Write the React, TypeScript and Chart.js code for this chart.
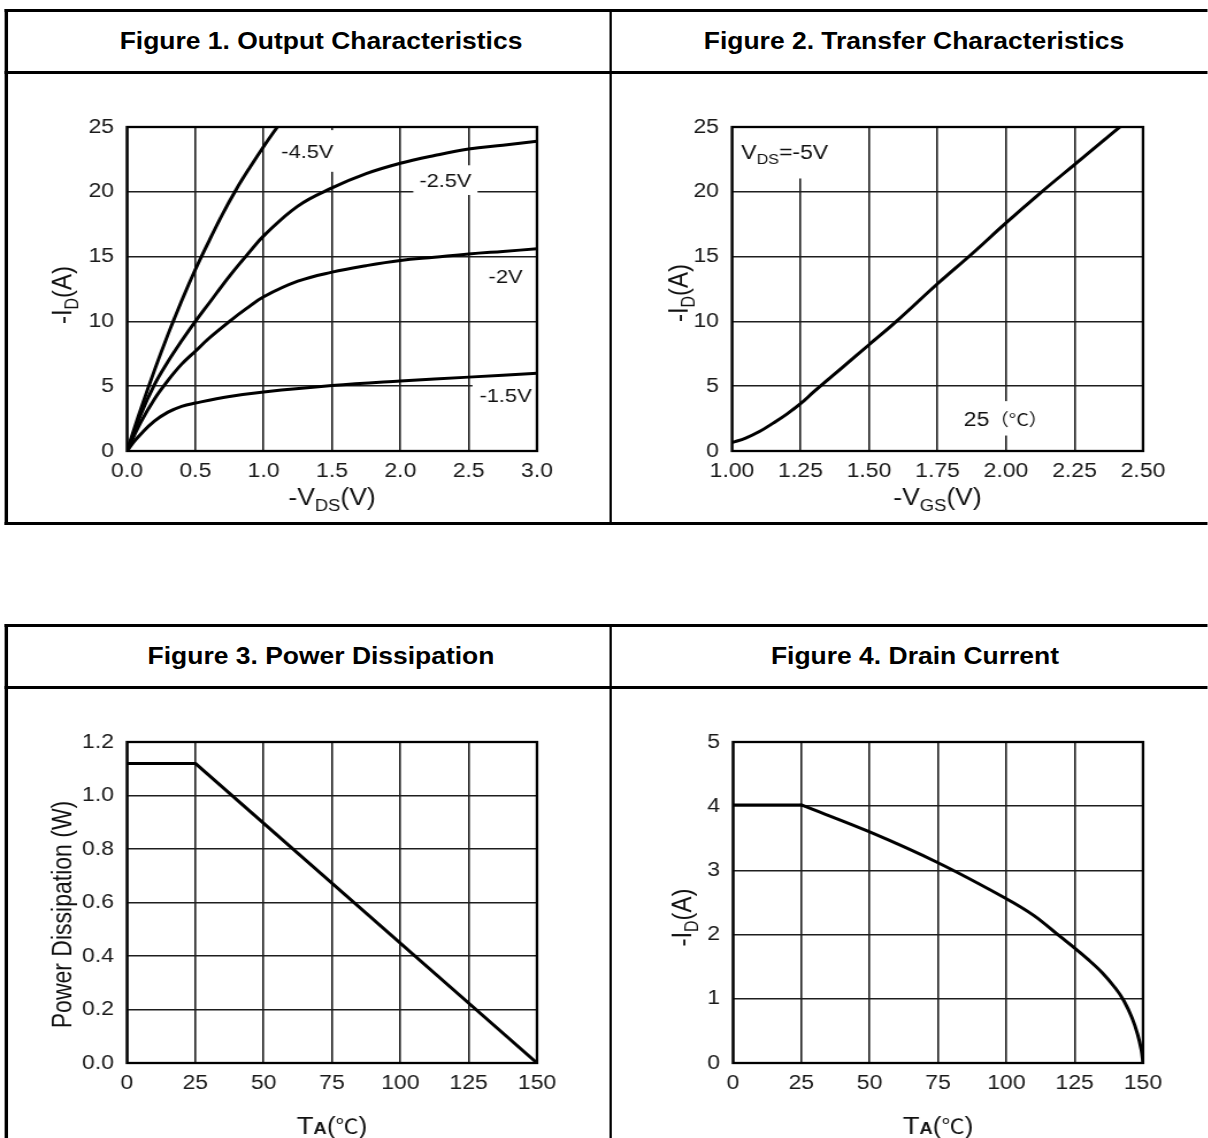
import React, { useEffect, useRef } from 'react';
import { Chart, registerables } from 'chart.js';

Chart.register(...registerables);

// The reference scan is stretched horizontally; everything is laid out
// at 1/S width and stretched back with a CSS transform.
const S = 1.15;
const SANS = '"Liberation Sans", Arial, Helvetica, sans-serif';
const CJK = '"Noto Sans CJK SC", "Noto Sans CJK JP", sans-serif';

// ---------------- Figure 1: Output characteristics ----------------
const fig1VdsM45 = [0, 0.1, 0.2, 0.3, 0.4, 0.5, 0.6, 0.7, 0.8, 0.9, 1.0, 1.1, 1.15];
const fig1IdM45 = [0, 3.2, 6.2, 9.0, 11.6, 14.0, 16.2, 18.3, 20.2, 21.9, 23.5, 25.0, 25.7];
const fig1VdsM25 = [0, 0.1, 0.2, 0.3, 0.4, 0.5, 0.6, 0.75, 0.9, 1.0, 1.25, 1.5, 1.75, 2.0, 2.25, 2.5, 2.75, 3.0];
const fig1IdM25 = [0, 2.8, 5.1, 6.9, 8.5, 10.0, 11.4, 13.5, 15.4, 16.6, 18.9, 20.3, 21.4, 22.2, 22.8, 23.3, 23.6, 23.9];
const fig1VdsM20 = [0, 0.1, 0.2, 0.3, 0.4, 0.5, 0.6, 0.75, 0.875, 1.0, 1.25, 1.5, 1.75, 2.0, 2.25, 2.5, 2.75, 3.0];
const fig1IdM20 = [0, 2.2, 4.0, 5.45, 6.7, 7.7, 8.7, 10.0, 11.0, 11.9, 13.1, 13.8, 14.3, 14.7, 14.95, 15.2, 15.4, 15.6];
const fig1VdsM15 = [0, 0.05, 0.1, 0.2, 0.3, 0.4, 0.5, 0.75, 1.0, 1.5, 2.0, 2.5, 3.0];
const fig1IdM15 = [0, 0.7, 1.3, 2.3, 3.0, 3.45, 3.7, 4.2, 4.55, 5.05, 5.4, 5.7, 6.0];
const fig1CurveLabels = ['-4.5V', '-2.5V', '-2V', '-1.5V'];

// ---------------- Figure 2: Transfer characteristics ----------------
const fig2Vgs = [1.0, 1.05, 1.1, 1.15, 1.2, 1.25, 1.3, 1.4, 1.5, 1.6, 1.75, 1.875, 2.0, 2.125, 2.25, 2.375, 2.45];
const fig2Id = [0.65, 1.0, 1.5, 2.15, 2.85, 3.65, 4.6, 6.4, 8.2, 10.0, 12.9, 15.2, 17.6, 19.9, 22.1, 24.3, 25.6];

// ---------------- Figure 3: Power dissipation ----------------
const fig3Temp = [0, 25, 150];
const fig3Power = [1.12, 1.12, 0];

// ---------------- Figure 4: Drain current ----------------
const fig4FlatTemp = [0, 25];
const fig4FlatId = [4.02, 4.02];
const fig4Temp = [25, 50, 75, 100, 110, 120, 125, 130, 135, 140, 143, 146, 148, 149.4, 150];
const fig4Id = [4.02, 3.6, 3.12, 2.56, 2.3, 1.96, 1.79, 1.61, 1.41, 1.16, 0.97, 0.7, 0.45, 0.2, 0];

const figureTitles = [
  'Figure 1. Output Characteristics',
  'Figure 2. Transfer Characteristics',
  'Figure 3. Power Dissipation',
  'Figure 4. Drain Current',
];

type Run = { text: string; size: number; bold?: boolean; family?: string; dy?: number };
type Note = { x: number; y: number; align: 'left' | 'center'; runs: Run[]; padX: number; padY: number };
type Axis = { min: number; max: number; step: number; dec: number };
type Series = { xs: number[]; ys: number[]; tension: number };
type Spec = {
  box: [number, number, number, number];
  plot: [number, number, number, number];
  x: Axis;
  y: Axis;
  series: Series[];
  notes: Note[];
  xTitle: Run[];
  xTitleDy: number;
  yTitle: Run[];
  yTitleDx: number;
  yTitleDy: number;
};

const runFont = (r: Run) => `${r.bold ? 'bold ' : ''}${r.size}px ${r.family ?? SANS}`;

function measureRuns(ctx: CanvasRenderingContext2D, runs: Run[]) {
  let w = 0;
  for (const r of runs) {
    ctx.font = runFont(r);
    w += ctx.measureText(r.text).width;
  }
  return w;
}

function drawRuns(ctx: CanvasRenderingContext2D, runs: Run[], x: number, baseline: number) {
  let cx = x;
  for (const r of runs) {
    ctx.font = runFont(r);
    ctx.fillText(r.text, cx, baseline + (r.dy ?? 0));
    cx += ctx.measureText(r.text).width;
  }
}

const capOf = (runs: Run[]) => runs[0].size * 0.72;

function makeDecor(spec: Spec) {
  return {
    id: 'decor',
    beforeDatasetsDraw(chart: any) {
      const ctx: CanvasRenderingContext2D = chart.ctx;
      const xs = chart.scales.x;
      const ys = chart.scales.y;
      ctx.save();
      ctx.fillStyle = '#ffffff';
      for (const n of spec.notes) {
        const w = measureRuns(ctx, n.runs);
        const px = xs.getPixelForValue(n.x);
        const py = ys.getPixelForValue(n.y);
        const left = n.align === 'center' ? px - w / 2 : px;
        const cap = capOf(n.runs);
        ctx.fillRect(left - n.padX / S, py - cap / 2 - n.padY, w + (2 * n.padX) / S, cap + 2 * n.padY);
      }
      ctx.restore();
    },
    afterDatasetsDraw(chart: any) {
      const ctx: CanvasRenderingContext2D = chart.ctx;
      const a = chart.chartArea;
      ctx.save();
      ctx.strokeStyle = '#000';
      ctx.lineWidth = 2.3;
      ctx.strokeRect(a.left, a.top, a.right - a.left, a.bottom - a.top);
      ctx.restore();
    },
    afterDraw(chart: any) {
      const ctx: CanvasRenderingContext2D = chart.ctx;
      const a = chart.chartArea;
      const xs = chart.scales.x;
      const ys = chart.scales.y;
      ctx.save();
      ctx.fillStyle = '#111';
      ctx.textBaseline = 'alphabetic';
      ctx.textAlign = 'left';
      for (const n of spec.notes) {
        const w = measureRuns(ctx, n.runs);
        const px = xs.getPixelForValue(n.x);
        const py = ys.getPixelForValue(n.y);
        const left = n.align === 'center' ? px - w / 2 : px;
        drawRuns(ctx, n.runs, left, py + capOf(n.runs) / 2);
      }
      // x axis title
      {
        const w = measureRuns(ctx, spec.xTitle);
        const cx = (a.left + a.right) / 2;
        const cy = a.bottom + spec.xTitleDy;
        drawRuns(ctx, spec.xTitle, cx - w / 2, cy + capOf(spec.xTitle) / 2);
      }
      // y axis title (rotated)
      {
        const w = measureRuns(ctx, spec.yTitle);
        const cx = a.left - spec.yTitleDx / S;
        const cy = (a.top + a.bottom) / 2 + spec.yTitleDy;
        ctx.translate(cx, cy);
        ctx.rotate(-Math.PI / 2);
        drawRuns(ctx, spec.yTitle, -w / 2, capOf(spec.yTitle) / 2);
      }
      ctx.restore();
    },
  };
}

const TICK_FONT = { family: SANS, size: 20 };
const GRID = { color: '#1e1e1e', lineWidth: 1.6, drawTicks: false };

function ChartPanel({ spec }: { spec: Spec }) {
  const ref = useRef<HTMLCanvasElement>(null);
  const [X0, Y0, X1, Y1] = spec.box;
  const cl = Math.round(X0 / S);
  const cw = Math.round((X1 - X0) / S);
  const ch = Y1 - Y0;

  useEffect(() => {
    const canvas = ref.current;
    if (!canvas) return;
    const [L, T, R, B] = spec.plot;
    const yAxisW = L / S - cl;
    const rightPad = cl + cw - R / S;
    const topPad = T - Y0;
    const xAxisH = Y1 - B;
    const chart = new Chart(canvas, {
      type: 'line',
      data: {
        datasets: spec.series.map((s) => ({
          data: s.xs.map((x, i) => ({ x, y: s.ys[i] })),
          borderColor: '#000',
          borderWidth: 3,
          pointRadius: 0,
          fill: false,
          tension: s.tension,
          borderJoinStyle: 'round',
          borderCapStyle: 'round',
        })),
      },
      options: {
        animation: false,
        responsive: false,
        devicePixelRatio: 1,
        events: [],
        layout: { padding: { left: 0, right: rightPad, top: topPad, bottom: 0 } },
        plugins: { legend: { display: false }, tooltip: { enabled: false } },
        scales: {
          x: {
            type: 'linear',
            min: spec.x.min,
            max: spec.x.max,
            afterFit: (sc: any) => {
              sc.height = xAxisH;
            },
            ticks: {
              stepSize: spec.x.step,
              autoSkip: false,
              maxRotation: 0,
              padding: 8,
              font: TICK_FONT,
              color: '#1a1a1a',
              callback: (v: any) => Number(v).toFixed(spec.x.dec),
            },
            grid: GRID,
            border: { display: false },
          },
          y: {
            type: 'linear',
            min: spec.y.min,
            max: spec.y.max,
            afterFit: (sc: any) => {
              sc.width = yAxisW;
            },
            ticks: {
              stepSize: spec.y.step,
              autoSkip: false,
              padding: 13 / S,
              font: TICK_FONT,
              color: '#1a1a1a',
              callback: (v: any) => Number(v).toFixed(spec.y.dec),
            },
            grid: GRID,
            border: { display: false },
          },
        },
      } as any,
      plugins: [makeDecor(spec) as any],
    });
    return () => chart.destroy();
  }, [spec]);

  return (
    <canvas
      ref={ref}
      width={cw}
      height={ch}
      style={{ position: 'absolute', left: cl, top: Y0, width: cw, height: ch }}
    />
  );
}

const sub = (text: string, size = 15, dy = 6): Run => ({ text, size, dy });
const txt = (text: string, size = 22): Run => ({ text, size });

const taTitle: Run[] = [
  { text: 'T', size: 24 },
  { text: 'A', size: 16, bold: true },
  { text: '(', size: 23 },
  { text: '\u2103', size: 20, family: CJK },
  { text: ')', size: 23 },
];

const note = (text: string, x: number, y: number, padX: number, padY: number): Note => ({
  x,
  y,
  align: 'center',
  runs: [{ text, size: 19 }],
  padX,
  padY,
});

const SPEC1: Spec = {
  box: [14, 80, 600, 520],
  plot: [127, 127, 537, 451],
  x: { min: 0, max: 3, step: 0.5, dec: 1 },
  y: { min: 0, max: 25, step: 5, dec: 0 },
  series: [
    { xs: fig1VdsM45, ys: fig1IdM45, tension: 0.4 },
    { xs: fig1VdsM25, ys: fig1IdM25, tension: 0.4 },
    { xs: fig1VdsM20, ys: fig1IdM20, tension: 0.4 },
    { xs: fig1VdsM15, ys: fig1IdM15, tension: 0.4 },
  ],
  notes: [
    note(fig1CurveLabels[0], 1.32, 23.15, 6, 14),
    note(fig1CurveLabels[1], 2.33, 20.9, 6, 8),
    note(fig1CurveLabels[2], 2.77, 13.5, 6, 6),
    note(fig1CurveLabels[3], 2.77, 4.3, 7, 6),
  ],
  xTitle: [txt('-V', 23), sub('DS', 16), txt('(V)', 23)],
  xTitleDy: 46,
  yTitle: [txt('-I', 24), sub('D', 16, 6), txt('(A)', 24)],
  yTitleDx: 66,
  yTitleDy: 6,
};

const SPEC2: Spec = {
  box: [620, 80, 1205, 520],
  plot: [732, 127, 1143, 451],
  x: { min: 1, max: 2.5, step: 0.25, dec: 2 },
  y: { min: 0, max: 25, step: 5, dec: 0 },
  series: [{ xs: fig2Vgs, ys: fig2Id, tension: 0.4 }],
  notes: [
    {
      x: 1.034,
      y: 23.05,
      align: 'left',
      runs: [{ text: 'V', size: 20 }, { text: 'DS', size: 14, dy: 5 }, { text: '=-5V', size: 20 }],
      padX: 6,
      padY: 19,
    },
    {
      x: 2.0,
      y: 2.52,
      align: 'center',
      runs: [{ text: '25', size: 20 }, { text: '\uFF08\u00B0C\uFF09', size: 17, family: CJK }],
      padX: 4,
      padY: 10,
    },
  ],
  xTitle: [txt('-V', 23), sub('GS', 16), txt('(V)', 23)],
  xTitleDy: 46,
  yTitle: [txt('-I', 24), sub('D', 16, 6), txt('(A)', 24)],
  yTitleDx: 54,
  yTitleDy: 4,
};

const SPEC3: Spec = {
  box: [14, 695, 600, 1138],
  plot: [127, 742, 537, 1063],
  x: { min: 0, max: 150, step: 25, dec: 0 },
  y: { min: 0, max: 1.2, step: 0.2, dec: 1 },
  series: [{ xs: fig3Temp, ys: fig3Power, tension: 0 }],
  notes: [],
  xTitle: taTitle,
  xTitleDy: 62,
  yTitle: [txt('Power Dissipation (W)', 23)],
  yTitleDx: 65,
  yTitleDy: 12,
};

const SPEC4: Spec = {
  box: [620, 695, 1205, 1138],
  plot: [733, 742, 1143, 1063],
  x: { min: 0, max: 150, step: 25, dec: 0 },
  y: { min: 0, max: 5, step: 1, dec: 0 },
  series: [
    { xs: fig4FlatTemp, ys: fig4FlatId, tension: 0 },
    { xs: fig4Temp, ys: fig4Id, tension: 0.35 },
  ],
  notes: [],
  xTitle: taTitle,
  xTitleDy: 62,
  yTitle: [txt('-I', 24), sub('D', 16, 6), txt('(A)', 24)],
  yTitleDx: 52,
  yTitleDy: 15,
};

const SPECS = [SPEC1, SPEC2, SPEC3, SPEC4];

function HLine({ y, x0, x1, t = 3 }: { y: number; x0: number; x1: number; t?: number }) {
  return (
    <div style={{ position: 'absolute', left: x0 / S, width: (x1 - x0) / S, top: y, height: t, background: '#000' }} />
  );
}
function VLine({ x, y0, y1, t = 3 }: { x: number; y0: number; y1: number; t?: number }) {
  return (
    <div style={{ position: 'absolute', left: x / S, width: t / S, top: y0, height: y1 - y0, background: '#000' }} />
  );
}
function Title({ text, cx, cy }: { text: string; cx: number; cy: number }) {
  return (
    <div
      style={{
        position: 'absolute',
        left: cx / S - 300,
        width: 600,
        top: cy - 15,
        height: 30,
        lineHeight: '30px',
        textAlign: 'center',
        font: `bold 23px ${SANS}`,
        color: '#000',
        whiteSpace: 'nowrap',
      }}
    >
      {text}
    </div>
  );
}

export default function App() {
  useEffect(() => {
    document.documentElement.style.overflow = 'hidden';
    document.body.style.overflow = 'hidden';
  }, []);
  return (
    <div
      style={{
        position: 'absolute',
        left: 0,
        top: 0,
        width: 1208 / S,
        height: 1138,
        overflow: 'hidden',
        background: '#fff',
        transform: `scaleX(${S})`,
        transformOrigin: '0 0',
      }}
    >
      {/* top table */}
      <HLine y={9} x0={5} x1={1220} />
      <HLine y={71} x0={5} x1={1220} />
      <HLine y={522} x0={5} x1={1220} />
      <VLine x={5} y0={9} y1={525} />
      <VLine x={609} y0={9} y1={525} />
      {/* bottom table */}
      <HLine y={624} x0={5} x1={1220} />
      <HLine y={686} x0={5} x1={1220} />
      <VLine x={5} y0={624} y1={1140} />
      <VLine x={609} y0={624} y1={1140} />

      <Title text={figureTitles[0]} cx={321} cy={43} />
      <Title text={figureTitles[1]} cx={914} cy={43} />
      <Title text={figureTitles[2]} cx={321} cy={658} />
      <Title text={figureTitles[3]} cx={915} cy={658} />

      {SPECS.map((s, i) => (
        <ChartPanel key={i} spec={s} />
      ))}
    </div>
  );
}
